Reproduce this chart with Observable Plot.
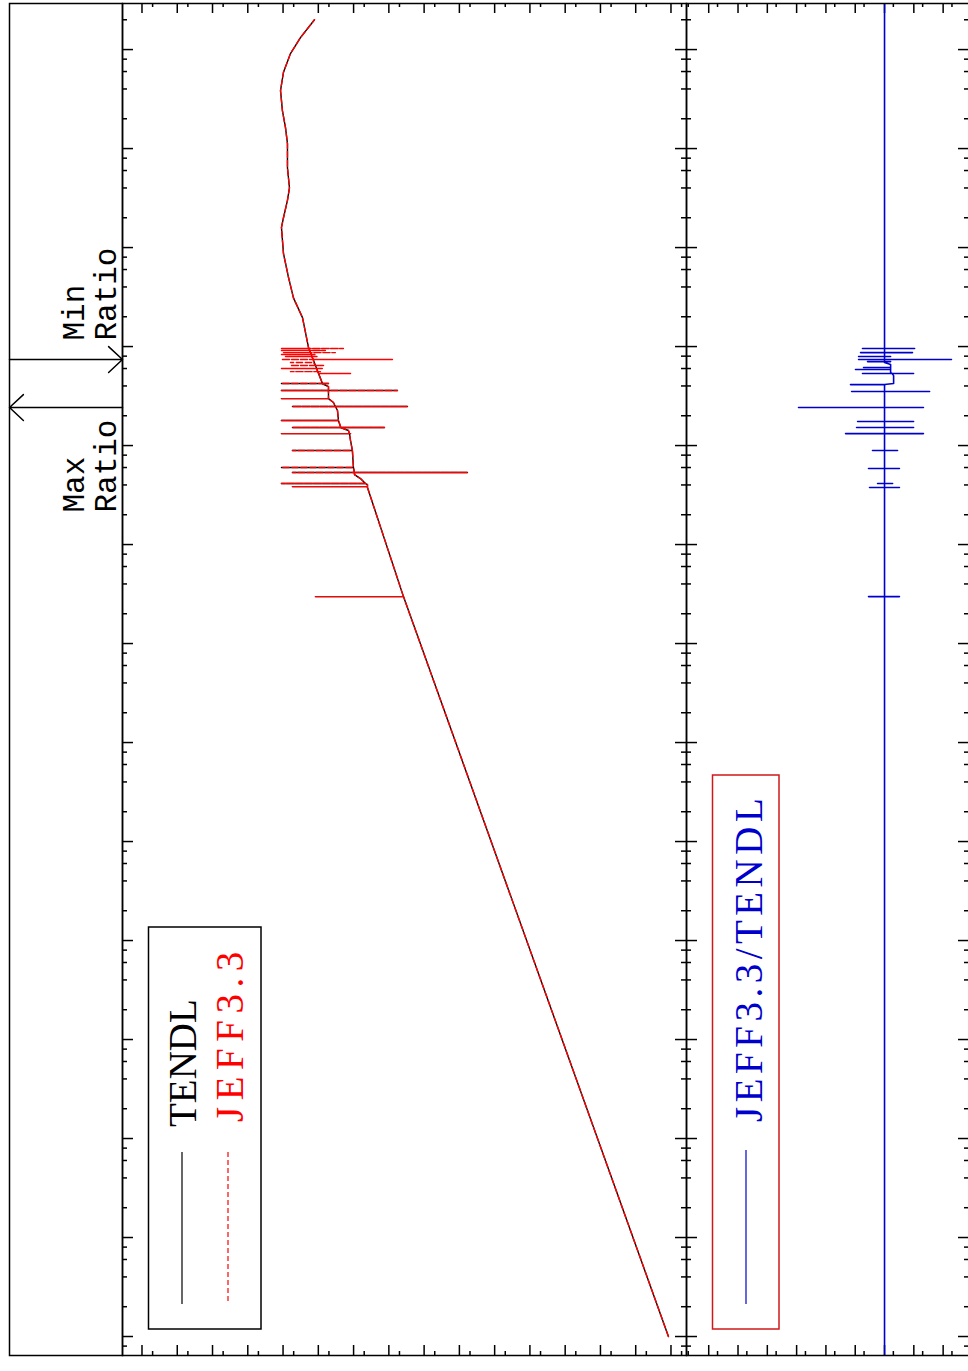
<!DOCTYPE html>
<html><head><meta charset="utf-8">
<script src="https://cdn.jsdelivr.net/npm/d3@7"></script>
<script src="https://cdn.jsdelivr.net/npm/@observablehq/plot@0.6"></script>
<style>
html,body{margin:0;padding:0;background:#fff;overflow:hidden;}
#chart{position:relative;width:968px;height:1371px;overflow:hidden;background:#fff;}
#chart svg{position:absolute;top:0;left:0;}
</style></head><body><div id="chart"></div>
<script>
// ---------------- data ----------------
const seriesNames = ["TENDL", "JEFF3.3"];
const ratioName = "JEFF3.3/TENDL";
const ratioLabels = ["Min\nRatio", "Max\nRatio"];

// smooth part of the cross section (energy in eV, cross section in b)
const baseEnergy = [1e-5, 2.98e2, 3.77e3, 4.04e3, 4.64e3, 5.09e3, 6.0e3, 8.9e3, 1.12e4, 1.42e4, 1.56e4, 1.79e4, 2.26e4, 2.72e4, 2.98e4, 3.94e4, 4.2e4, 9.8e4, 1.96e5, 3.1e5, 5.0e5, 8.7e5, 1.6e6, 2.0e6, 3.0e6, 4.0e6, 6.4e6, 1.12e7, 1.63e7, 2.4e7, 3.85e7, 5.9e7, 9.1e7, 1.32e8, 2.0e8];
const baseXS = [1.18e-9, 0.0385, 0.404, 0.404, 0.638, 0.944, 1.01, 1.08, 1.22, 1.40, 2.35, 2.69, 2.86, 3.72, 5.15, 5.15, 7.62, 19.0, 28.1, 50.7, 70.1, 97.3, 111, 97.3, 75.0, 65.8, 75.0, 75.0, 85.3, 104, 118, 97.3, 61.7, 32.1, 12.85];

// resonances common to both libraries: energy, local base, peak, dip
const resEnergy = [2.98e2, 3.85e3, 4.13e3, 5.34e3, 6.0e3, 8.9e3, 1.32e4, 1.52e4, 1.79e4, 2.48e4, 2.98e4, 3.6e4, 4.23e4];
const resBase   = [0.0385, 0.404, 0.46, 0.944, 1.01, 1.08, 1.31, 2.35, 2.69, 3.27, 5.15, 5.15, 7.62];
const resPeak   = [12.05, 54.1, 111, 54.1, 111, 54.1, 111, 54.1, 111, 54.1, 111, 111, 111];
const resDip    = [0.0385, 0.404, 0.46, 5.9e-4, 1.01, 1.08, 1.22, 0.133, 2.69, 0.0296, 5.15, 0.057, 5.15];

// resonances present in JEFF3.3 only
const jeffEnergy = [5.34e4, 5.58e4, 6.0e4, 6.43e4, 6.89e4, 7.39e4, 7.93e4, 8.3e4, 8.69e4, 9.12e4, 9.55e4];
const jeffBase   = [9.9, 10.6, 11.3, 12.05, 13.7, 13.7, 15.6, 15.6, 16.7, 17.8, 17.8];
const jeffPeak   = [9.9, 61.7, 111, 61.7, 61.7, 111, 85.3, 111, 97.3, 111, 111];
const jeffDip    = [1.22, 8.7, 7.1, 7.1, 13.7, 0.0791, 9.9, 12.05, 3.27, 6.3, 1.94];

// ratio JEFF3.3/TENDL
const ratioBaseEnergy = [6.43e-6, 3.94e4, 4.23e4, 5.09e4, 5.46e4, 6.58e4, 6.89e4, 2.92e8];
const ratioBaseValue  = [1, 1, 0.49, 0.49, 0.62, 0.62, 1, 1];
const ratioSpikeEnergy = [2.98e2, 3.77e3, 4.13e3, 5.86e3, 8.9e3, 1.32e4, 1.52e4, 1.75e4, 2.42e4, 3.51e4, 4.13e4, 5.34e4, 5.86e4, 6.14e4, 7.05e4, 7.39e4, 7.93e4, 8.69e4, 9.55e4];
const ratioSpikeBase   = [1, 1, 1, 1, 1, 1, 1, 1, 1, 1, 1, 0.55, 0.62, 0.62, 1, 1, 1, 1, 1];
const ratioSpikeHigh   = [3.52, 3.25, 1.73, 3.52, 2.57, 21.4, 9.0, 8.3, 861, 13.3, 14.5, 5.65, 9.8, 5.2, 3.8, 7.7, 7.7, 6.58, 5.65];
const ratioSpikeLow    = [0.31, 0.31, 0.53, 0.31, 0.36, 0.047, 0.102, 0.102, 0.047, 0.029, 0.92, 0.102, 0.62, 0.62, 0.62, 0.0052, 0.62, 0.111, 0.094];

// axis ticks
const energyDecades = [1e-6, 1e-5, 1e-4, 1e-3, 1e-2, 1e-1, 1, 1e1, 1e2, 1e3, 1e4, 1e5, 1e6, 1e7, 1e8];
const energyMinorMult = [2, 4, 6, 8];
const xsDecades = [1e-10, 1e-9, 1e-8, 1e-7, 1e-6, 1e-5, 1e-4, 1e-3, 1e-2, 1e-1, 1, 1e1, 1e2, 1e3, 1e4, 1e5, 1e6];
const ratioDecades = [1e-3, 1e-2, 1e-1, 1, 1e1, 1e2, 1e3, 1e4, 1e5, 1e6];
const minorMult5 = [5];

// ---------------- build ----------------
const energyDomain = [6.43e-6, 2.92e8];
const xsDomain = [3.63e-10, 3.57e6];
const ratioDomain = [1.26e-3, 5.73e6];
const inside = (v, [a, b]) => v >= a && v <= b;

const eMajor = energyDecades.filter(v => inside(v, energyDomain));
const eMinor = energyDecades.flatMap(d => energyMinorMult.map(m => m * d)).filter(v => inside(v, energyDomain));
const xMajor = xsDecades.filter(v => inside(v, xsDomain));
const xMinor = xsDecades.flatMap(d => minorMult5.map(m => m * d)).filter(v => inside(v, xsDomain));
const rMajor = ratioDecades.filter(v => inside(v, ratioDomain));
const rMinor = ratioDecades.flatMap(d => minorMult5.map(m => m * d)).filter(v => inside(v, ratioDomain));

function buildPath(bE, bV, groups) {
  const pts = bE.map((e, i) => ({e, v: bV[i]}));
  for (const [E, B, P, D] of groups) {
    E.forEach((e, i) => {
      pts.push({e, v: B[i]}, {e, v: P[i]}, {e, v: D[i]}, {e, v: B[i]});
    });
  }
  return pts.map((p, i) => ({...p, i})).sort((a, b) => a.e - b.e || a.i - b.i);
}
const tendl = buildPath(baseEnergy, baseXS, [[resEnergy, resBase, resPeak, resDip]]);
const jeff = buildPath(baseEnergy, baseXS, [[resEnergy, resBase, resPeak, resDip], [jeffEnergy, jeffBase, jeffPeak, jeffDip]]);
const ratio = buildPath(ratioBaseEnergy, ratioBaseValue, [[ratioSpikeEnergy, ratioSpikeBase, ratioSpikeHigh, ratioSpikeLow]]);

const allRatio = ratioSpikeEnergy.map((e, i) => [e, ratioSpikeHigh[i], ratioSpikeLow[i]]);
const maxRatioE = allRatio.reduce((a, b) => (b[1] > a[1] ? b : a))[0];
const minRatioE = allRatio.reduce((a, b) => (b[2] < a[2] ? b : a))[0];

// ---------------- layout ----------------
const W = 970, H = 1371, MT = 3, MB = 16;
const PH = H - MT - MB;
const base = {width: W, height: H, marginTop: MT, marginBottom: MB,
  style: {background: "transparent", maxWidth: "none", position: "absolute", top: "0px", left: "0px"}};
const yOpt = {type: "log", domain: energyDomain, axis: null};
const SW = 1.5;
const mono = "'Liberation Mono', 'DejaVu Sans Mono', monospace";
const serif = "'Liberation Serif', 'DejaVu Serif', serif";

function edgeTicks(panelW) {
  return [
    Plot.tickY(eMajor, {y: d => d, insetRight: panelW - 11, strokeWidth: SW}),
    Plot.tickY(eMinor, {y: d => d, insetRight: panelW - 5, strokeWidth: SW}),
    Plot.tickY(eMajor, {y: d => d, insetLeft: panelW - 11, strokeWidth: SW}),
    Plot.tickY(eMinor, {y: d => d, insetLeft: panelW - 5, strokeWidth: SW})
  ];
}
function topBottomTicks(major, minor) {
  return [
    Plot.tickX(major, {x: d => d, insetBottom: PH - 10, strokeWidth: SW}),
    Plot.tickX(minor, {x: d => d, insetBottom: PH - 4, strokeWidth: SW}),
    Plot.tickX(major, {x: d => d, insetTop: PH - 10, strokeWidth: SW}),
    Plot.tickX(minor, {x: d => d, insetTop: PH - 4, strokeWidth: SW})
  ];
}

const chart = document.getElementById("chart");

// left strip with min/max ratio markers
const arrows = [{e: minRatioE, x1: 0, x2: 1}, {e: maxRatioE, x1: 1, x2: 0}];
chart.append(Plot.plot({...base, marginLeft: 9, marginRight: W - 122,
  x: {domain: [0, 1], axis: null}, y: yOpt,
  marks: [
    Plot.frame({strokeWidth: SW}),
    Plot.arrow(arrows, {x1: "x1", x2: "x2", y1: "e", y2: "e", headAngle: 86, headLength: 19, strokeWidth: SW, stroke: "black"}),
    Plot.text([minRatioE], {x: () => 1, y: d => d, text: () => ratioLabels[0], rotate: -90, textAnchor: "start", lineAnchor: "bottom", lineHeight: 1.03, dx: -7, dy: -19, fontSize: 31, fontFamily: mono, fill: "black"}),
    Plot.text([maxRatioE], {x: () => 1, y: d => d, text: () => ratioLabels[1], rotate: -90, textAnchor: "start", lineAnchor: "bottom", lineHeight: 1.03, dx: -7, dy: 105, fontSize: 31, fontFamily: mono, fill: "black"})
  ]}));

// cross section panel
chart.append(Plot.plot({...base, marginLeft: 122, marginRight: W - 686,
  x: {type: "log", domain: xsDomain, reverse: true, axis: null}, y: yOpt,
  marks: [
    ...edgeTicks(686 - 122),
    ...topBottomTicks(xMajor, xMinor),
    Plot.line(tendl, {x: "v", y: "e", stroke: "black", strokeWidth: 1.4, clip: true}),
    Plot.line(jeff, {x: "v", y: "e", stroke: "#ff0000", strokeWidth: 1.4, strokeDasharray: "6,3", clip: true}),
    Plot.frame({strokeWidth: SW})
  ]}));

// ratio panel
chart.append(Plot.plot({...base, marginLeft: 686, marginRight: 1,
  x: {type: "log", domain: ratioDomain, reverse: true, axis: null}, y: yOpt,
  marks: [
    ...edgeTicks(W - 1 - 686),
    ...topBottomTicks(rMajor, rMinor),
    Plot.line(ratio, {x: "v", y: "e", stroke: "#0000cc", strokeWidth: 1.6, clip: true}),
    Plot.frame({strokeWidth: SW})
  ]}));

// legends
const lg = d3.create("svg").attr("width", 968).attr("height", 1371);
const g1 = lg.append("g");
g1.append("rect").attr("x", 148.5).attr("y", 927).attr("width", 112.5).attr("height", 402)
  .attr("fill", "none").attr("stroke", "black").attr("stroke-width", SW);
g1.append("line").attr("x1", 182).attr("x2", 182).attr("y1", 1152).attr("y2", 1304).attr("stroke", "black").attr("stroke-width", 1.2);
g1.append("line").attr("x1", 228).attr("x2", 228).attr("y1", 1152).attr("y2", 1304).attr("stroke", "#ff0000").attr("stroke-width", 1.2).attr("stroke-dasharray", "5,3");
g1.append("text").attr("transform", "translate(196,1127) rotate(-90)").attr("font-family", serif).attr("font-size", 39).attr("fill", "black").text(seriesNames[0]);
g1.append("text").attr("transform", "translate(243,1122) rotate(-90)").attr("font-family", serif).attr("font-size", 39).attr("letter-spacing", 6.5).attr("fill", "#ff0000").text(seriesNames[1]);
const g2 = lg.append("g");
g2.append("rect").attr("x", 712.5).attr("y", 775).attr("width", 66.5).attr("height", 554)
  .attr("fill", "none").attr("stroke", "#d01818").attr("stroke-width", SW);
g2.append("line").attr("x1", 746).attr("x2", 746).attr("y1", 1150).attr("y2", 1304).attr("stroke", "#0000cc").attr("stroke-width", 1.2);
g2.append("text").attr("transform", "translate(762,1122) rotate(-90)").attr("font-family", serif).attr("font-size", 39).attr("letter-spacing", 4.5).attr("fill", "#0000cc").text(ratioName);
chart.append(lg.node());
</script></body></html>
